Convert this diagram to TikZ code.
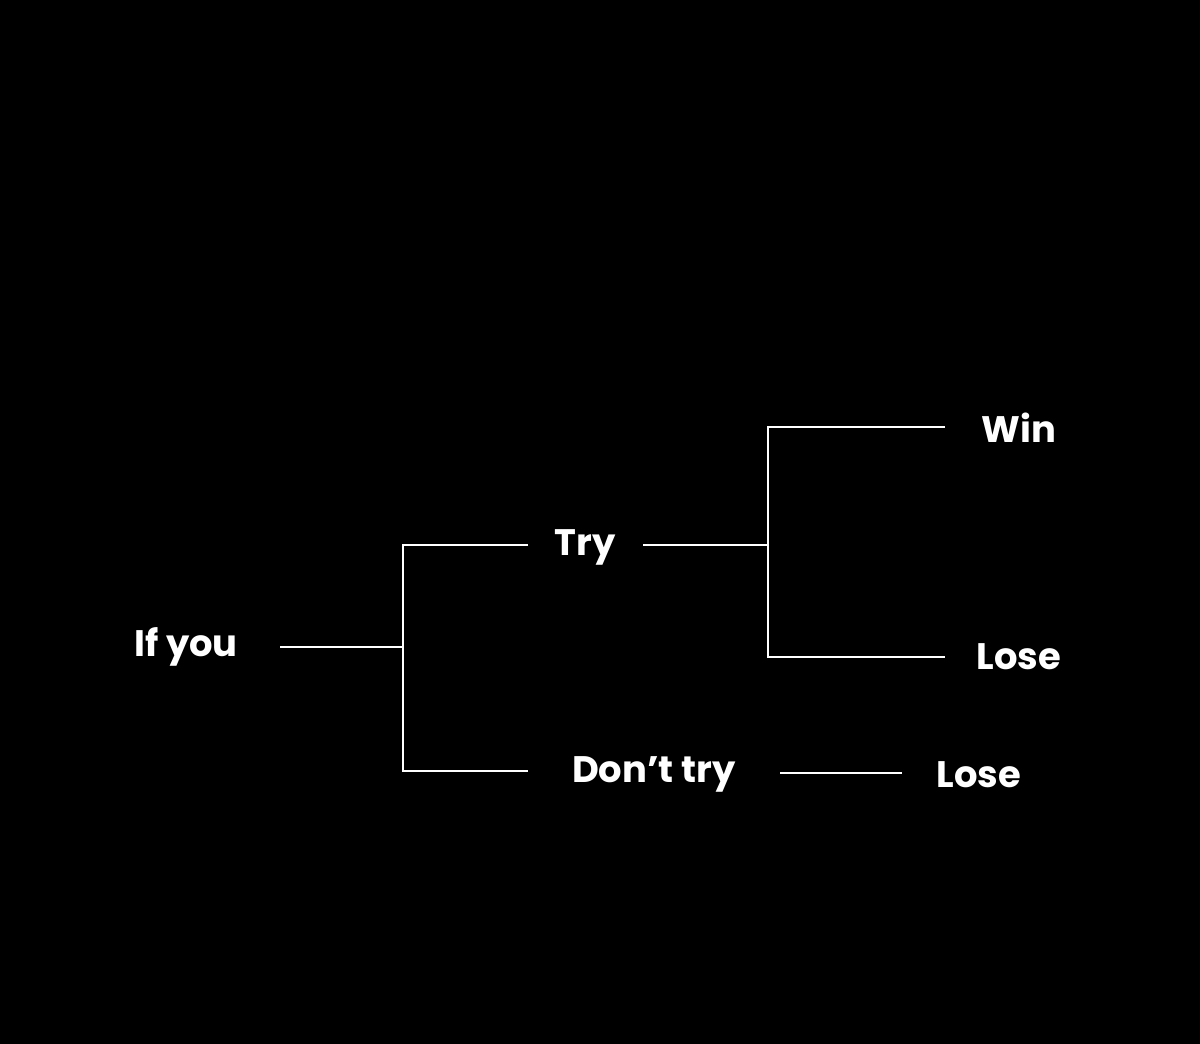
\documentclass[tikz,border=0pt]{standalone}
\usepackage{fontspec}
\setmainfont{Poppins}
\begin{document}
\begin{tikzpicture}[x=0.02cm,y=-0.02cm,
  lbl/.style={text=white,font=\bfseries\fontsize{21}{24}\selectfont,inner sep=0pt},
  ln/.style={draw=white,line width=1.3pt}]
\fill[black] (0,0) rectangle (1200,1044);
\useasboundingbox (0,0) rectangle (1200,1044);
\node[lbl] (ifyou) at (186,647) {If you};
\node[lbl] (try) at (585,547) {Try};
\node[lbl] (dont) at (654,774) {Don’t try};
\node[lbl] (win) at (1019,428) {Win};
\node[lbl] (lose1) at (1019,657) {Lose};
\node[lbl] (lose2) at (979,775) {Lose};
\coordinate (a1) at (280,647); \coordinate (j1) at (403,647);
\coordinate (j1t) at (403,545); \coordinate (j1b) at (403,771);
\coordinate (t1) at (528,545); \coordinate (d1) at (528,771);
\coordinate (t2) at (643,545); \coordinate (j2) at (768,545);
\coordinate (j2t) at (768,427); \coordinate (j2b) at (768,657);
\coordinate (w1) at (945,427); \coordinate (l1) at (945,657);
\coordinate (d2) at (780,773); \coordinate (l2) at (902,773);
\draw[ln] (a1) -- (j1);
\draw[ln] (t1) -- (j1t) -- (j1b) -- (d1);
\draw[ln] (t2) -- (j2);
\draw[ln] (w1) -- (j2t) -- (j2b) -- (l1);
\draw[ln] (d2) -- (l2);
\end{tikzpicture}
\end{document}
